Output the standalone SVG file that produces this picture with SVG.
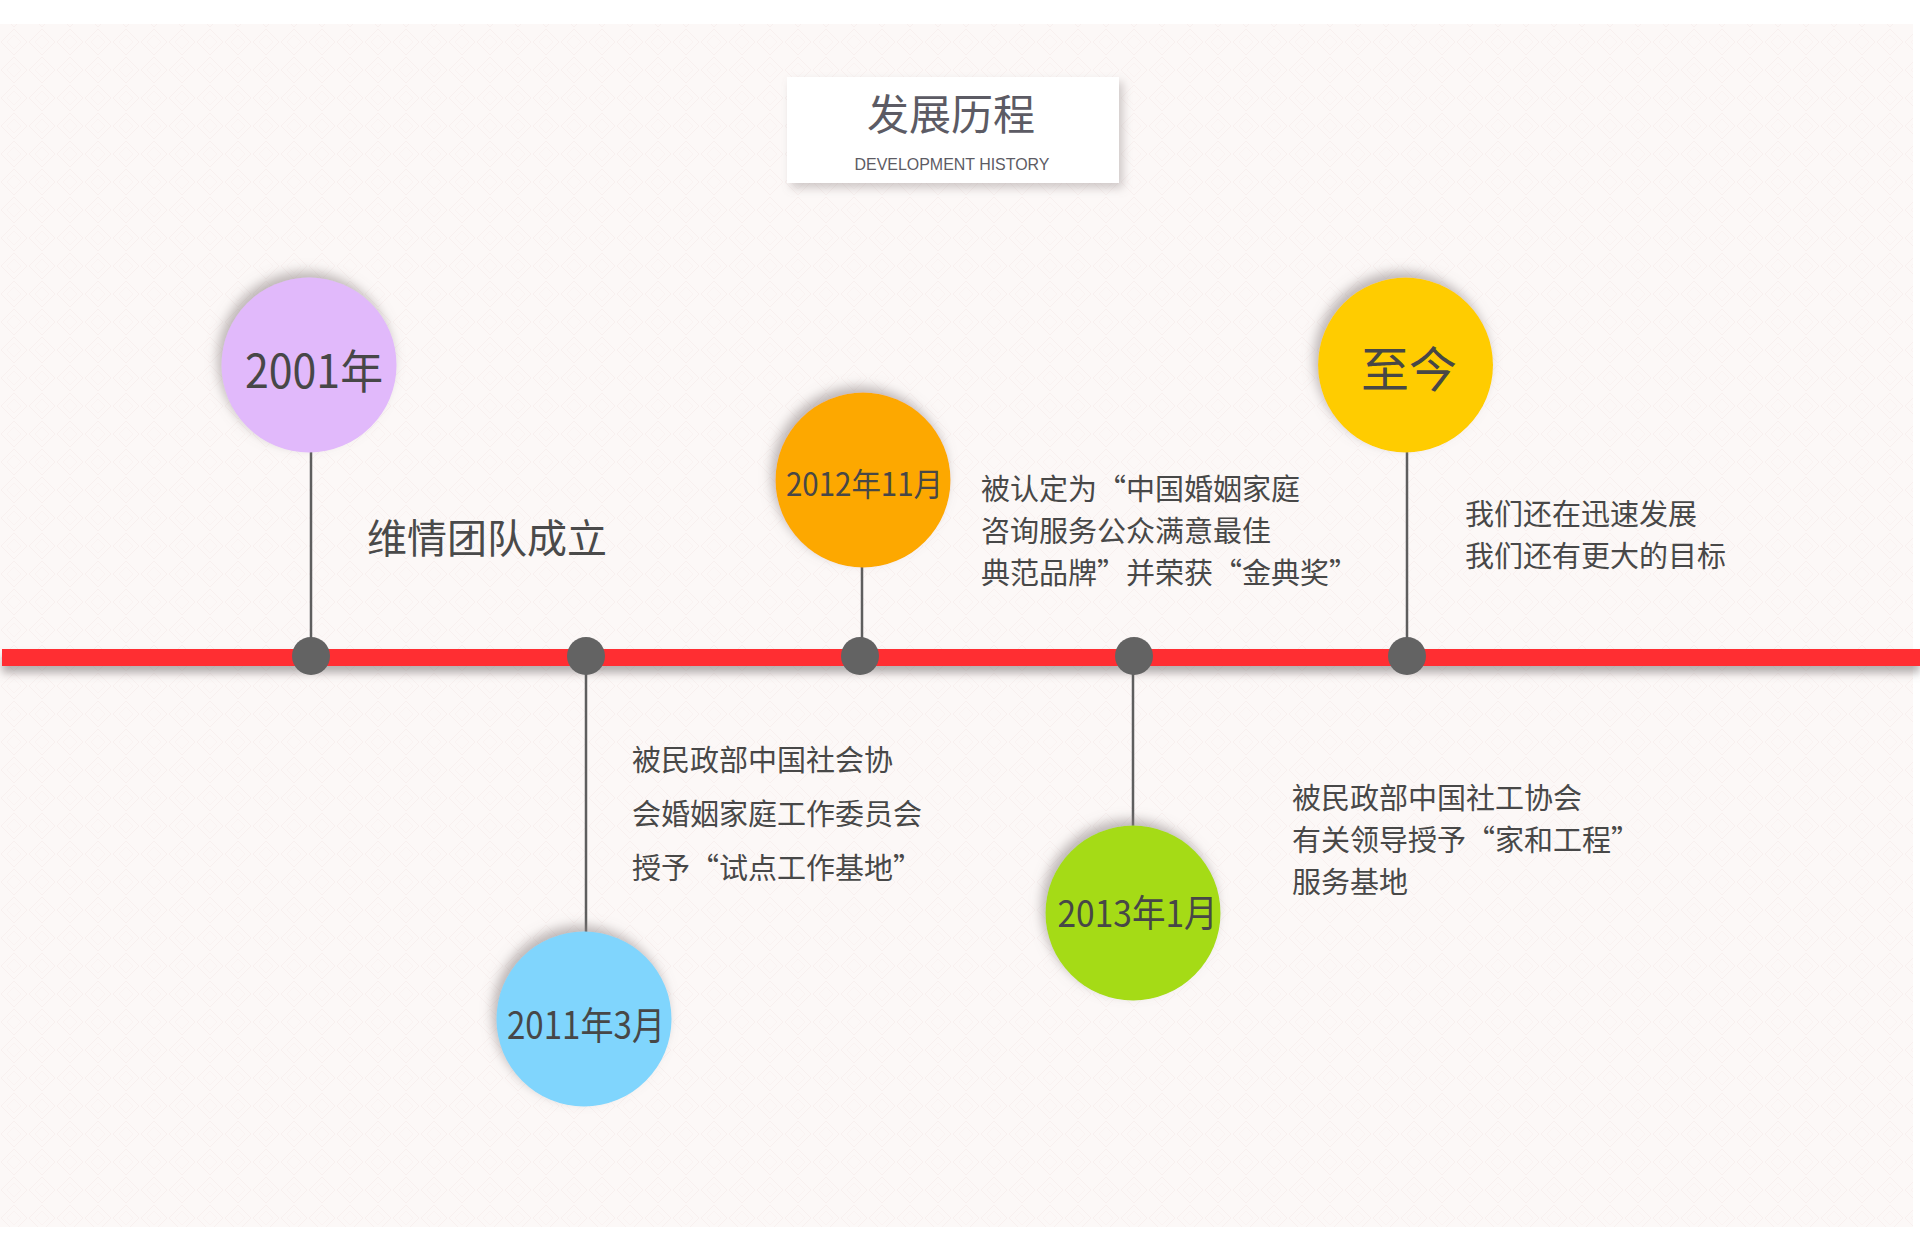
<svg xmlns="http://www.w3.org/2000/svg" width="1920" height="1236" viewBox="0 0 1920 1236">
  <defs>
    <pattern id="tex" width="28" height="28" patternUnits="userSpaceOnUse">
      <rect width="28" height="28" fill="#fcf8f7"/>
      <path d="M14 1 L27 14 L14 27 L1 14 Z" fill="none" stroke="#f8f0ef" stroke-width="1"/>
      <path d="M14 7 L21 14 L14 21 L7 14 Z" fill="none" stroke="#faf3f2" stroke-width="1"/>
    </pattern>
    <filter id="circShadow" x="-30%" y="-30%" width="160%" height="160%">
      <feGaussianBlur in="SourceAlpha" stdDeviation="6"/>
      <feOffset dx="-4" dy="-6" result="b"/>
      <feFlood flood-color="#8a8080" flood-opacity="0.55"/>
      <feComposite in2="b" operator="in"/>
      <feMerge><feMergeNode/><feMergeNode in="SourceGraphic"/></feMerge>
    </filter>
    <filter id="lineShadow" x="-5%" y="-100%" width="110%" height="300%">
      <feDropShadow dx="0" dy="7" stdDeviation="4" flood-color="#7a7070" flood-opacity="0.55"/>
    </filter>
    <filter id="boxShadow" x="-10%" y="-20%" width="125%" height="150%">
      <feDropShadow dx="4" dy="5" stdDeviation="5" flood-color="#8a8080" flood-opacity="0.4"/>
    </filter>
    <style>
      .cn { font-family: "Noto Sans CJK SC", "Noto Sans", sans-serif; }
      .date { fill: #474747; text-anchor: middle; }
      .desc { fill: #484848; font-size: 29px; }
      .stem { stroke: #5e5e5e; stroke-width: 2.5; fill: none; }
      .dot { fill: #636363; }
    </style>
  </defs>

  <rect x="0" y="0" width="1920" height="1236" fill="#ffffff"/>
  <rect x="0" y="24" width="1913" height="1203" fill="url(#tex)"/>

  <g id="title">
    <rect x="787" y="77" width="332" height="106" fill="#ffffff" filter="url(#boxShadow)"/>
    <text x="951" y="130" class="cn" font-size="42" fill="#5c5b64" text-anchor="middle">发展历程</text>
    <text x="952" y="170" font-family="Liberation Sans, Arial, sans-serif" font-size="17" fill="#5c5b64" text-anchor="middle" textLength="195" lengthAdjust="spacingAndGlyphs">DEVELOPMENT HISTORY</text>
  </g>

  <g id="timeline">
    <rect x="2" y="649" width="1918" height="17" fill="#ff2e33" filter="url(#lineShadow)"/>
  </g>

  <g id="connectors">
    <line class="stem" x1="311" y1="452" x2="311" y2="656"/>
    <line class="stem" x1="586" y1="656" x2="586" y2="932"/>
    <line class="stem" x1="862" y1="567" x2="862" y2="656"/>
    <line class="stem" x1="1133" y1="656" x2="1133" y2="826"/>
    <line class="stem" x1="1407" y1="452" x2="1407" y2="656"/>
    <circle class="dot" cx="311" cy="656" r="19"/>
    <circle class="dot" cx="586" cy="656" r="19"/>
    <circle class="dot" cx="860" cy="656" r="19"/>
    <circle class="dot" cx="1134" cy="656" r="19"/>
    <circle class="dot" cx="1407" cy="656" r="19"/>
  </g>

  <g id="node-2001">
    <circle cx="309" cy="365" r="87.5" fill="#e1b9fb" filter="url(#circShadow)"/>
    <text x="314" y="388" class="cn date" font-size="46" textLength="138" lengthAdjust="spacingAndGlyphs">2001年</text>
    <text x="367" y="553" class="cn" font-size="40" fill="#4a4a4a">维情团队成立</text>
  </g>

  <g id="node-2011">
    <circle cx="584" cy="1019" r="87.5" fill="#80d5fd" filter="url(#circShadow)"/>
    <text x="586" y="1039" class="cn date" font-size="38" textLength="158" lengthAdjust="spacingAndGlyphs">2011年3月</text>
    <text class="cn desc" x="632" y="771">被民政部中国社会协</text>
    <text class="cn desc" x="632" y="825">会婚姻家庭工作委员会</text>
    <text class="cn desc" x="632" y="879">授予“试点工作基地”</text>
  </g>

  <g id="node-2012">
    <circle cx="863" cy="480" r="87.5" fill="#fda800" filter="url(#circShadow)"/>
    <text x="864.5" y="495.5" class="cn date" font-size="32" textLength="157" lengthAdjust="spacingAndGlyphs">2012年11月</text>
    <text class="cn desc" x="981" y="500">被认定为“中国婚姻家庭</text>
    <text class="cn desc" x="981" y="542">咨询服务公众满意最佳</text>
    <text class="cn desc" x="981" y="584">典范品牌”并荣获“金典奖”</text>
  </g>

  <g id="node-2013">
    <circle cx="1133" cy="913" r="87.5" fill="#a5db16" filter="url(#circShadow)"/>
    <text x="1137.5" y="926.5" class="cn date" font-size="37" textLength="160" lengthAdjust="spacingAndGlyphs">2013年1月</text>
    <text class="cn desc" x="1292" y="808.5">被民政部中国社工协会</text>
    <text class="cn desc" x="1292" y="850.5">有关领导授予“家和工程”</text>
    <text class="cn desc" x="1292" y="893">服务基地</text>
  </g>

  <g id="node-now">
    <circle cx="1405.5" cy="365" r="87.5" fill="#ffcc00" filter="url(#circShadow)"/>
    <text x="1409" y="387" class="cn date" font-size="48">至今</text>
    <text class="cn desc" x="1465" y="525">我们还在迅速发展</text>
    <text class="cn desc" x="1465" y="567">我们还有更大的目标</text>
  </g>
</svg>
